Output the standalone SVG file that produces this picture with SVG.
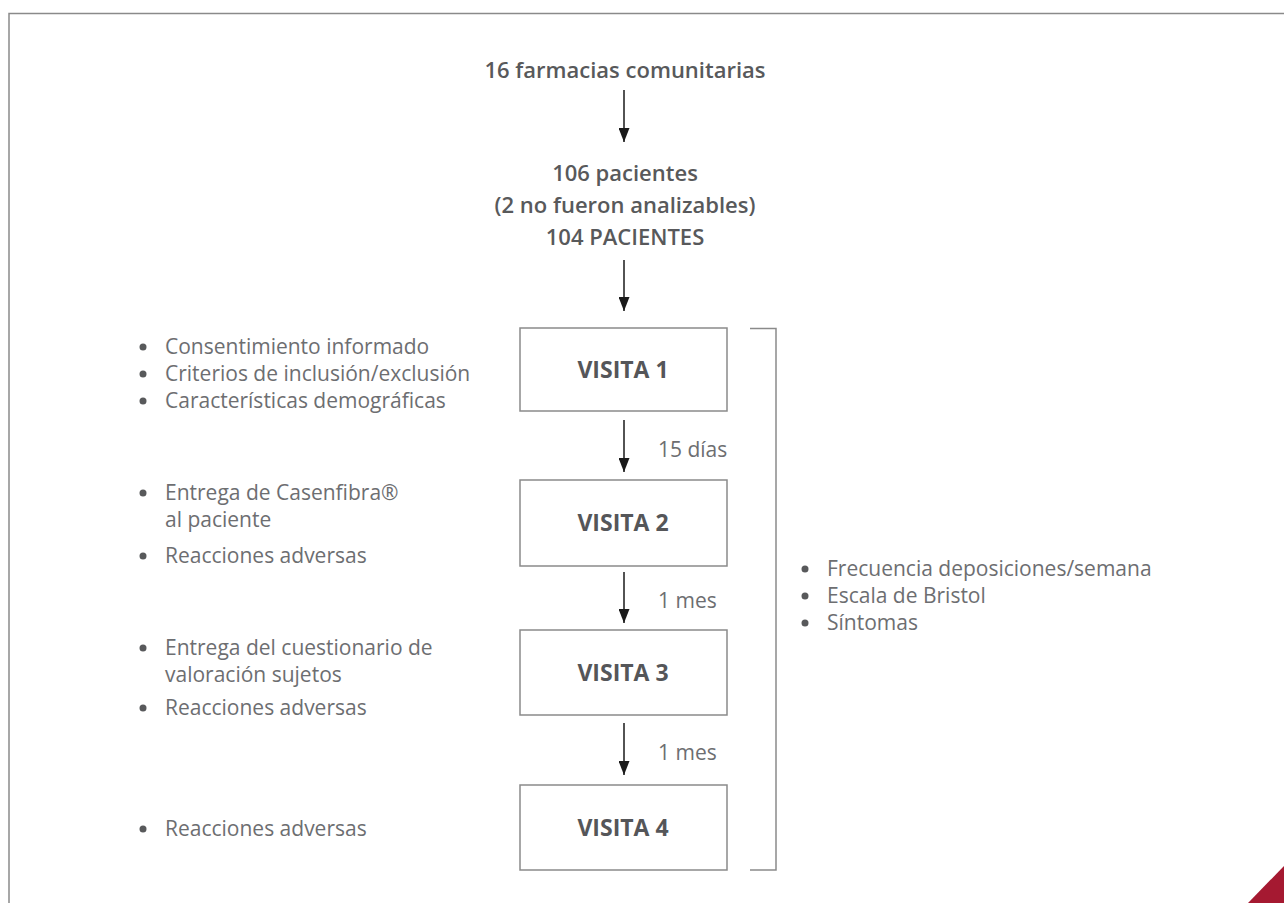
<svg xmlns="http://www.w3.org/2000/svg" width="1284" height="903" viewBox="0 0 1284 903">
<defs>
<marker id="ah" viewBox="0 0 14 11" refX="14" refY="5.5" markerWidth="14" markerHeight="11" markerUnits="userSpaceOnUse" orient="auto">
<path d="M0,0 L14,5.5 L0,11 z" fill="#1a1a1a"/>
</marker>
<style>
.t{font-family:"Open Sans","Liberation Sans",sans-serif;fill:#58595b;}
.h{font-size:22px;font-weight:600;text-anchor:middle;}
.v{font-size:23px;font-weight:bold;text-anchor:middle;fill:#555659;}
.b{font-size:21px;fill:#6d6e71;}
.box{fill:#fff;stroke:#8a8a8a;stroke-width:1.5;}
.arr{stroke:#1a1a1a;stroke-width:1.5;fill:none;marker-end:url(#ah);}
.dot{fill:#58595b;}
</style>
</defs>
<rect width="1284" height="903" fill="#fff"/>
<path d="M9,903 V13.5 H1284" fill="none" stroke="#8a8a8a" stroke-width="1.5"/>
<polygon points="1284,866 1284,903 1248,903" fill="#a51931"/>

<g id="top">
<text class="t h" x="625" y="78">16 farmacias comunitarias</text>
</g>
<g id="pacientes">
<text class="t h" x="625" y="181">106 pacientes</text>
<text class="t h" x="625" y="213">(2 no fueron analizables)</text>
<text class="t h" x="625" y="245">104 PACIENTES</text>
</g>

<g id="visita1"><rect class="box" x="520" y="328" width="207" height="83"/><text class="t v" x="623" y="378">VISITA 1</text></g>
<g id="visita2"><rect class="box" x="520" y="480" width="207" height="86"/><text class="t v" x="623" y="531">VISITA 2</text></g>
<g id="visita3"><rect class="box" x="520" y="630" width="207" height="85"/><text class="t v" x="623" y="681">VISITA 3</text></g>
<g id="visita4"><rect class="box" x="520" y="785" width="207" height="85"/><text class="t v" x="623" y="836">VISITA 4</text></g>

<g id="connectors">
<line class="arr" x1="624" y1="90" x2="624" y2="142"/>
<line class="arr" x1="624" y1="260" x2="624" y2="311"/>
<line class="arr" x1="624" y1="420" x2="624" y2="472"/>
<line class="arr" x1="624" y1="572" x2="624" y2="623"/>
<line class="arr" x1="624" y1="723" x2="624" y2="775"/>
<text class="t b" x="658" y="457">15 días</text>
<text class="t b" x="658" y="608">1 mes</text>
<text class="t b" x="658" y="760">1 mes</text>
<path d="M750,328.5 H776 V870 H750" fill="none" stroke="#8a8a8a" stroke-width="1.5"/>
</g>

<g id="notas1">
<circle class="dot" cx="143" cy="347" r="3.5"/><text class="t b" x="165" y="354">Consentimiento informado</text>
<circle class="dot" cx="143" cy="374" r="3.5"/><text class="t b" x="165" y="381">Criterios de inclusión/exclusión</text>
<circle class="dot" cx="143" cy="401" r="3.5"/><text class="t b" x="165" y="408">Características demográficas</text>
</g>
<g id="notas2">
<circle class="dot" cx="143" cy="493" r="3.5"/><text class="t b" x="165" y="500">Entrega de Casenfibra®</text>
<text class="t b" x="165" y="527">al paciente</text>
<circle class="dot" cx="143" cy="556" r="3.5"/><text class="t b" x="165" y="563">Reacciones adversas</text>
</g>
<g id="notas3">
<circle class="dot" cx="143" cy="648" r="3.5"/><text class="t b" x="165" y="655">Entrega del cuestionario de</text>
<text class="t b" x="165" y="682">valoración sujetos</text>
<circle class="dot" cx="143" cy="708" r="3.5"/><text class="t b" x="165" y="715">Reacciones adversas</text>
</g>
<g id="notas4">
<circle class="dot" cx="143" cy="829" r="3.5"/><text class="t b" x="165" y="836">Reacciones adversas</text>
</g>
<g id="notas5">
<circle class="dot" cx="805" cy="569" r="3.5"/><text class="t b" x="827" y="576">Frecuencia deposiciones/semana</text>
<circle class="dot" cx="805" cy="596" r="3.5"/><text class="t b" x="827" y="603">Escala de Bristol</text>
<circle class="dot" cx="805" cy="623" r="3.5"/><text class="t b" x="827" y="630">Síntomas</text>
</g>
</svg>
